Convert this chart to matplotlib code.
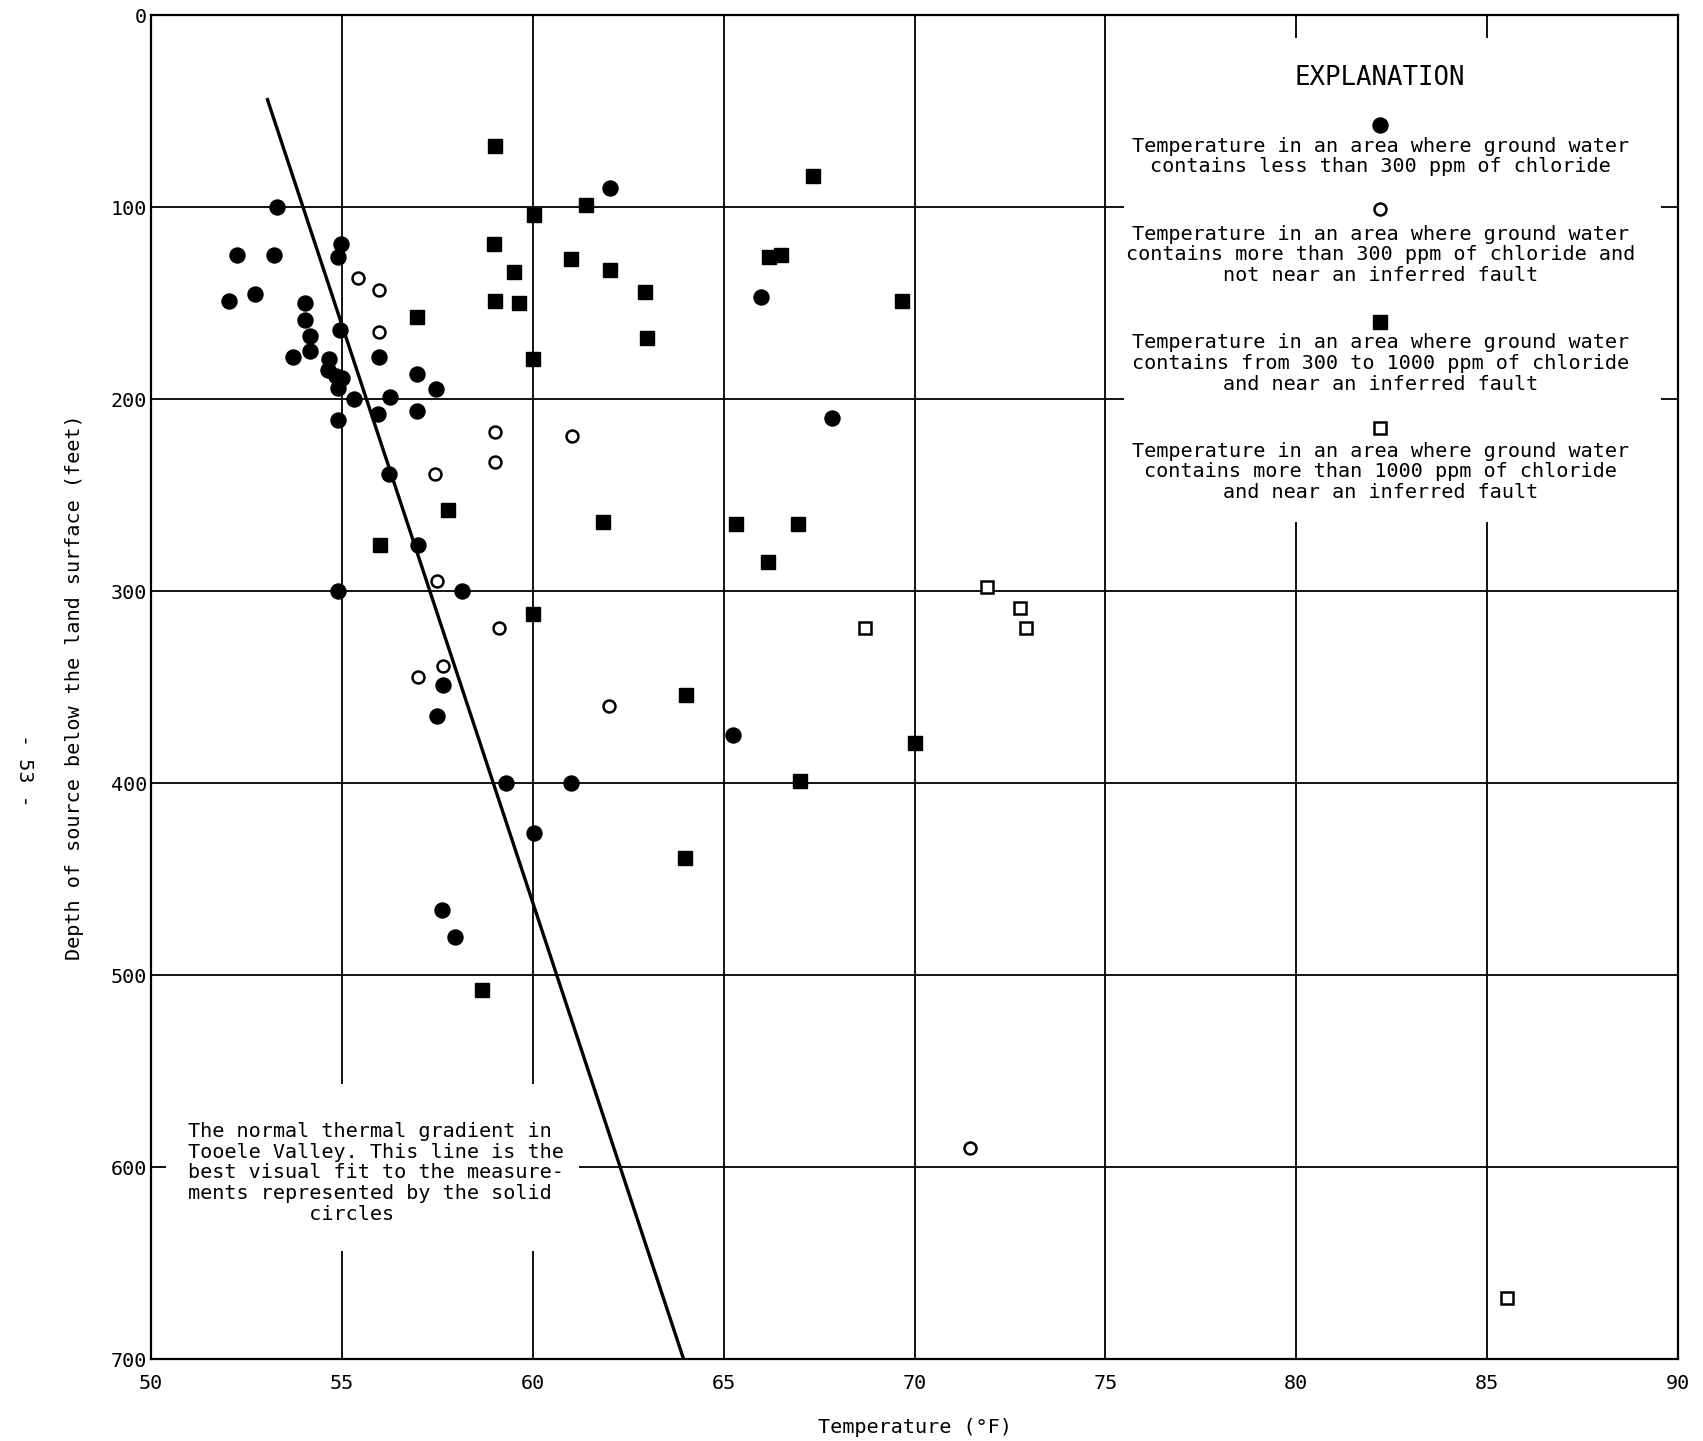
import matplotlib
matplotlib.use("Agg")
import matplotlib.pyplot as plt
from matplotlib.patches import Rectangle

plt.rcParams['font.family'] = ['DejaVu Sans Mono', 'DejaVu Sans']

# Solid circles: less than 300 ppm chloride
low_cl_temp = [53.31, 52.24, 53.22, 54.97, 54.89, 52.73, 52.04, 54.04, 54.04, 54.16,
               54.95, 54.16, 53.72, 55.98, 54.67, 54.64, 54.85, 55.0, 54.9, 56.96,
               57.47, 55.31, 56.27, 56.97, 54.9, 55.95, 56.23, 57.0, 54.91, 58.15,
               57.66, 57.49, 59.31, 60.99, 60.04, 57.62, 57.95, 62.01, 65.99, 67.84,
               65.24]
low_cl_depth = [100, 125, 125, 119, 126, 145, 149, 150, 159, 167,
                164, 175, 178, 178, 179, 185, 188, 189, 194, 187,
                195, 200, 199, 206, 211, 208, 239, 276, 300, 300,
                349, 365, 400, 400, 426, 466, 480, 90, 147, 210,
                375]

# Open circles: more than 300 ppm, not near a fault
mid_cl_temp = [55.42, 55.98, 55.98, 59.0, 59.01, 61.04, 57.43, 57.49, 59.12, 57.65,
               56.98, 61.99, 71.45]
mid_cl_depth = [137, 143, 165, 217, 233, 219, 239, 295, 319, 339,
                345, 360, 590]

# Solid squares: 300 to 1000 ppm, near an inferred fault
fault_temp = [59.0, 60.03, 58.99, 59.52, 59.0, 59.63, 56.97, 60.0, 61.40, 60.99,
              62.01, 62.95, 63.0, 67.35, 66.19, 66.51, 69.67, 57.77, 56.0, 61.83,
              60.0, 64.02, 65.33, 66.94, 66.16, 70.0, 67.0, 64.0, 58.67]
fault_depth = [68, 104, 119, 134, 149, 150, 157, 179, 99, 127,
               133, 144, 168, 84, 126, 125, 149, 258, 276, 264,
               312, 354, 265, 265, 285, 379, 399, 439, 508]

# Open squares: more than 1000 ppm, near an inferred fault
high_cl_temp = [71.89, 72.77, 72.92, 68.70, 85.52]
high_cl_depth = [298, 309, 319, 319, 668]

# normal thermal gradient line (visual fit)
line_temp = [53.05, 63.95]
line_depth = [44, 700]

x_ticks = [50, 55, 60, 65, 70, 75, 80, 85, 90]
y_ticks = [0, 100, 200, 300, 400, 500, 600, 700]

fig = plt.figure(figsize=(17.03, 14.41), dpi=100)
ax = fig.add_axes([0.0887, 0.0569, 0.8966, 0.9326])

ax.set_xlim(50, 90)
ax.set_ylim(700, 0)
ax.set_xticks(x_ticks)
ax.set_yticks(y_ticks)
ax.tick_params(length=0, labelsize=14.5)
ax.tick_params(axis='x', pad=11)
ax.tick_params(axis='y', pad=3)
ax.grid(True, color='black', lw=1.3)
for s in ax.spines.values():
    s.set_linewidth(1.6)

# white areas where the grid is blanked out for the notes
ax.add_patch(Rectangle((75.5, 12), 89.55 - 75.5, 264 - 12, facecolor='white',
                       edgecolor='none', zorder=1.6))
ax.add_patch(Rectangle((50.4, 557), 61.2 - 50.4, 644 - 557, facecolor='white',
                       edgecolor='none', zorder=1.6))

ax.plot(line_temp, line_depth, color='black', lw=2.4, zorder=2.5)

ax.plot(low_cl_temp, low_cl_depth, 'o', color='black', ms=10.8, ls='none', zorder=3)
ax.plot(mid_cl_temp, mid_cl_depth, 'o', mfc='white', mec='black', mew=1.8, ms=8.6,
        ls='none', zorder=3)
ax.plot(fault_temp, fault_depth, 's', color='black', ms=10.4, ls='none', zorder=3)
ax.plot(high_cl_temp, high_cl_depth, 's', mfc='white', mec='black', mew=1.8, ms=8.0,
        ls='none', zorder=3)

# explanation
ax.text(82.2, 33, 'EXPLANATION', fontsize=18.5, ha='center', va='center', zorder=4)
ax.plot([82.2], [57], 'o', color='black', ms=10.8, zorder=4)
ax.plot([82.2], [101], 'o', mfc='white', mec='black', mew=1.8, ms=8.6, zorder=4)
ax.plot([82.2], [160], 's', color='black', ms=10.4, zorder=4)
ax.plot([82.2], [215], 's', mfc='white', mec='black', mew=1.8, ms=8.0, zorder=4)

legend_text = [
    (73.6, 'Temperature in an area where ground water\ncontains less than 300 ppm of chloride'),
    (124.8, 'Temperature in an area where ground water\ncontains more than 300 ppm of chloride and\nnot near an inferred fault'),
    (181.5, 'Temperature in an area where ground water\ncontains from 300 to 1000 ppm of chloride\nand near an inferred fault'),
    (237.8, 'Temperature in an area where ground water\ncontains more than 1000 ppm of chloride\nand near an inferred fault'),
]
for d, t in legend_text:
    ax.text(82.2, d, t, fontsize=14.5, ha='center', va='center', multialignment='center',
            linespacing=1.11, zorder=4)

ax.text(50.96, 603, 'The normal thermal gradient in\nTooele Valley. This line is the\n'
        'best visual fit to the measure-\nments represented by the solid\n'
        '          circles', fontsize=14.5, ha='left', va='center',
        multialignment='left', linespacing=1.11, zorder=4)

ax.set_xlabel('Temperature (°F)', fontsize=14.5)
ax.set_ylabel('Depth of source below the land surface (feet)', fontsize=14.5)
ax.xaxis.set_label_coords(0.5, -0.044)
ax.yaxis.set_label_coords(-0.044, 0.5)

fig.text(24 / 1703, 1 - 770 / 1441, '- 53 -', fontsize=14.5, rotation=270,
         ha='center', va='center')

fig.savefig('out.png', dpi=100)
